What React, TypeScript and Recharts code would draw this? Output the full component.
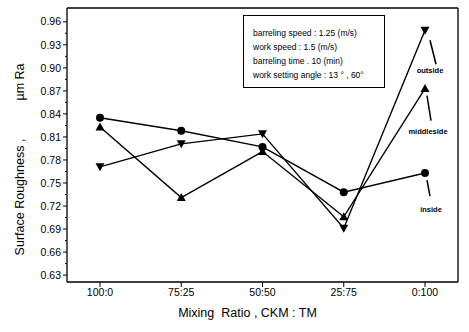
import React from "react";
import { LineChart, Line, XAxis, YAxis } from "recharts";

const ratios = ["100:0", "75:25", "50:50", "25:75", "0:100"];
const inside = [0.835, 0.818, 0.797, 0.738, 0.763];
const middleside = [0.823, 0.731, 0.791, 0.706, 0.873];
const outside = [0.771, 0.801, 0.814, 0.691, 0.949];

const majorTicks = [0.63, 0.66, 0.69, 0.72, 0.75, 0.78, 0.81, 0.84, 0.87, 0.9, 0.93, 0.96];
const minorTicks = [0.645, 0.675, 0.705, 0.735, 0.765, 0.795, 0.825, 0.855, 0.885, 0.915, 0.945];

const conditions = [
  "barreling speed : 1.25 (m/s)",
  "work speed : 1.5 (m/s)",
  "barreling time . 10 (min)",
  "work setting angle : 13 \u00b0 , 60\u00b0",
];

const data = ratios.map((r, i) => ({
  ratio: r,
  inside: inside[i],
  middleside: middleside[i],
  outside: outside[i],
}));

const FONT = "'Liberation Sans', Arial, sans-serif";

const markers: Record<string, (cx: number, cy: number) => React.ReactNode> = {
  circle: (cx, cy) => <circle cx={cx} cy={cy} r={4} fill="#000" />,
  up: (cx, cy) => <path d={`M${cx},${cy - 4.5} L${cx + 4.5},${cy + 3.5} L${cx - 4.5},${cy + 3.5} Z`} fill="#000" />,
  down: (cx, cy) => <path d={`M${cx - 4.5},${cy - 3.5} L${cx + 4.5},${cy - 3.5} L${cx},${cy + 4.5} Z`} fill="#000" />,
};

// marker, plus a leader line and side name beside the last point
function makeDot(shape: string, name: string, lead: number[], text: number[]) {
  return (props: any) => {
    const cx = Number(props.cx);
    const cy = Number(props.cy);
    const last = props.index === ratios.length - 1;
    const x1 = cx + lead[0];
    const y1 = cy + lead[1];
    const dx = lead[2] - lead[0];
    const dy = lead[3] - lead[1];
    const len = Math.sqrt(dx * dx + dy * dy);
    const angle = (-Math.atan2(dx, dy) * 180) / Math.PI;
    return (
      <g key={`${name}-${props.index}`}>
        {markers[shape](cx, cy)}
        {last ? (
          <g>
            <rect
              x={x1 - 0.75}
              y={y1}
              width={1.5}
              height={len}
              fill="#000"
              transform={`rotate(${angle} ${x1} ${y1})`}
            />
            <text
              x={cx + text[0]}
              y={cy + text[1]}
              textAnchor="middle"
              dominantBaseline="central"
              fontSize={7.5}
              fontFamily={FONT}
              fontWeight="bold"
              fill="#000"
            >
              {name}
            </text>
          </g>
        ) : null}
      </g>
    );
  };
}

function YTick({ x, y, payload }: any) {
  const major = majorTicks.includes(payload.value);
  return (
    <g>
      <line x1={x - (major ? 4 : 2)} y1={y} x2={x} y2={y} stroke="#000" strokeWidth={1} />
      {major && (
        <text x={x - 6} y={y} dy="0.35em" textAnchor="end" fontSize={10.5} fontFamily={FONT} fill="#000">
          {payload.value.toFixed(2)}
        </text>
      )}
    </g>
  );
}

export default function App() {
  return (
    <div style={{ position: "absolute", left: 0, top: 0, width: 469, height: 332, background: "#fff" }}>
      <LineChart
        width={469}
        height={332}
        data={data}
        margin={{ top: 7, right: 10, bottom: 0, left: 0 }}
      >
        <XAxis
          dataKey="ratio"
          padding={{ left: 33, right: 33 }}
          height={50}
          tickSize={5}
          tickMargin={2}
          axisLine={{ stroke: "#000", strokeWidth: 1.3 }}
          tickLine={{ stroke: "#000", strokeWidth: 1 }}
          tick={{ fill: "#000", fontSize: 10.5, fontFamily: FONT }}
          label={{
            content: ({ viewBox }: any) => (
              <text
                x={viewBox.x + viewBox.width / 2 - 15}
                y={317}
                textAnchor="middle"
                fontSize={12.5}
                fontFamily={FONT}
                fill="#000"
                style={{ whiteSpace: "pre" }}
              >
                {"Mixing  Ratio , CKM : TM"}
              </text>
            ),
          }}
        />
        <XAxis xAxisId="top" dataKey="ratio" orientation="top" height={1} tick={false} tickLine={false}
          axisLine={{ stroke: "#000", strokeWidth: 1.3 }} />
        <YAxis
          domain={[0.621, 0.978]}
          ticks={[...majorTicks, ...minorTicks].sort((a, b) => a - b)}
          interval={0}
          width={67}
          tickSize={0}
          tickMargin={0}
          tickLine={false}
          axisLine={{ stroke: "#000", strokeWidth: 1.3 }}
          tick={<YTick />}
          label={{
            content: () => (
              <g fontFamily={FONT} fontSize={12.5} fill="#000">
                <text x={24} y={197} textAnchor="middle" transform="rotate(-90 24 197)">
                  Surface Roughness ,
                </text>
                <text x={24} y={82} textAnchor="middle" transform="rotate(-90 24 82)">
                  {"\u00b5m Ra"}
                </text>
              </g>
            ),
          }}
        />
        <YAxis yAxisId="right" orientation="right" width={1} domain={[0.621, 0.978]} tick={false} tickLine={false}
          axisLine={{ stroke: "#000", strokeWidth: 1.3 }} />
        <Line
          dataKey="inside"
          stroke="#000"
          strokeWidth={1.4}
          dot={makeDot("circle", "inside", [2, 7, 5, 23], [6, 36])}
          isAnimationActive={false}
        />
        <Line
          dataKey="middleside"
          stroke="#000"
          strokeWidth={1.4}
          dot={makeDot("up", "middleside", [2, 7, 6, 32], [3, 43])}
          isAnimationActive={false}
        />
        <Line
          dataKey="outside"
          stroke="#000"
          strokeWidth={1.4}
          dot={makeDot("down", "outside", [5, 10, 11, 34], [5, 40])}
          isAnimationActive={false}
        />
      </LineChart>
      <div
        style={{
          position: "absolute",
          left: 243,
          top: 15,
          width: 140,
          height: 71,
          border: "1px solid #000",
          background: "#fff",
          fontFamily: FONT,
          fontSize: 8.5,
          color: "#000",
        }}
      >
        {conditions.map((c, i) => (
          <div key={i} style={{ position: "absolute", left: 9, top: 11 + i * 14, lineHeight: "12px", whiteSpace: "pre" }}>
            {c}
          </div>
        ))}
      </div>
    </div>
  );
}
